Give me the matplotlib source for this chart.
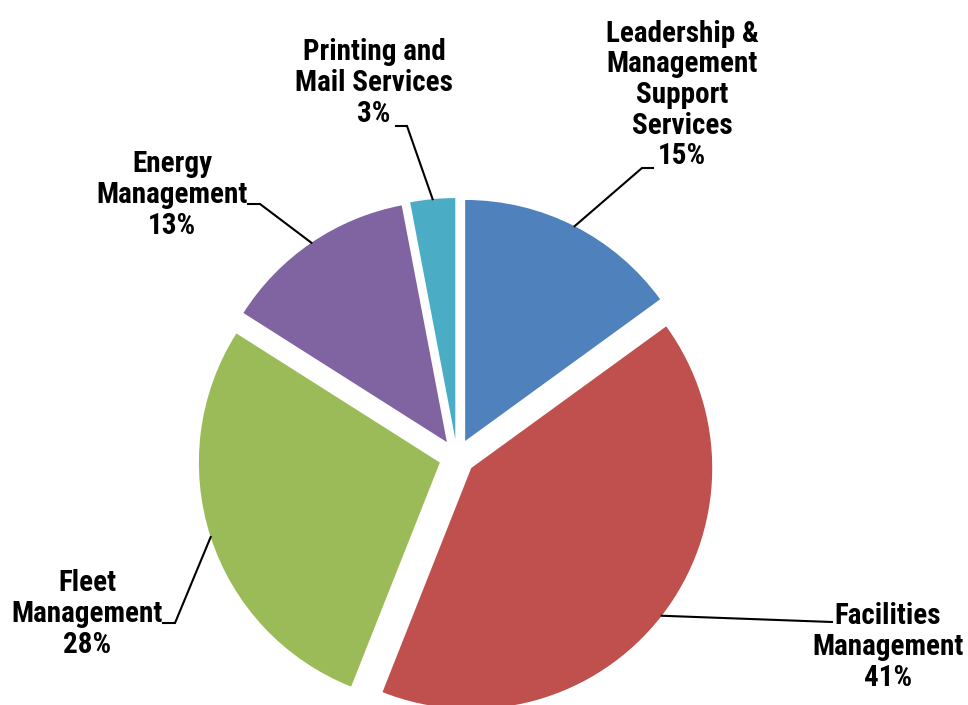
import numpy as np
import matplotlib
matplotlib.use('Agg')
import matplotlib.pyplot as plt

plt.rcParams['font.family'] = ['Roboto Condensed', 'DejaVu Sans']

# data
categories = ['Leadership &\nManagement\nSupport\nServices', 'Facilities\nManagement',
              'Fleet\nManagement', 'Energy\nManagement', 'Printing and\nMail Services']
shares = [15, 41, 28, 13, 3]
colors = ['#4F81BD', '#C0504D', '#9BBB59', '#8064A2', '#4BACC6']

W, H = 968, 705


def img(x, y):
    # image pixel coords -> data coords
    return x, H - y


fig = plt.figure(figsize=(W / 100, H / 100), dpi=100)
ax = fig.add_axes([0, 0, 1, 1])

R = 241
wedges, _ = ax.pie(shares, colors=colors, startangle=90, counterclock=False,
                   radius=R, center=img(457, 457), explode=[18] * len(shares),
                   wedgeprops=dict(linewidth=0))
ax.set_xlim(0, W)
ax.set_ylim(0, H)
ax.set_aspect('equal')
ax.axis('off')

# label layout (image coords): text centre, elbow, line end
label_pos = [(682, 95), (888, 647), (87, 614), (172, 195), (374, 83)]
elbows = [(642, 168), (832, 622), (175, 623), (260, 204), (407, 126)]
ends = [(653, 168), (832, 622), (163, 623), (248, 204), (396, 126)]

for w, cat, s, tp, el, en in zip(wedges, categories, shares, label_pos, elbows, ends):
    ang = np.deg2rad((w.theta1 + w.theta2) / 2)
    cx, cy = w.center
    p0 = (cx + w.r * np.cos(ang), cy + w.r * np.sin(ang))
    p1 = img(*el)
    p2 = img(*en)
    ax.plot([p0[0], p1[0], p2[0]], [p0[1], p1[1], p2[1]], color='black', lw=1.5,
            solid_joinstyle='miter')
    ax.text(*img(*tp), f'{cat}\n{s}%', ha='center', va='center', fontsize=21,
            fontweight='bold', linespacing=1.12)

fig.savefig('out.png', dpi=100)
